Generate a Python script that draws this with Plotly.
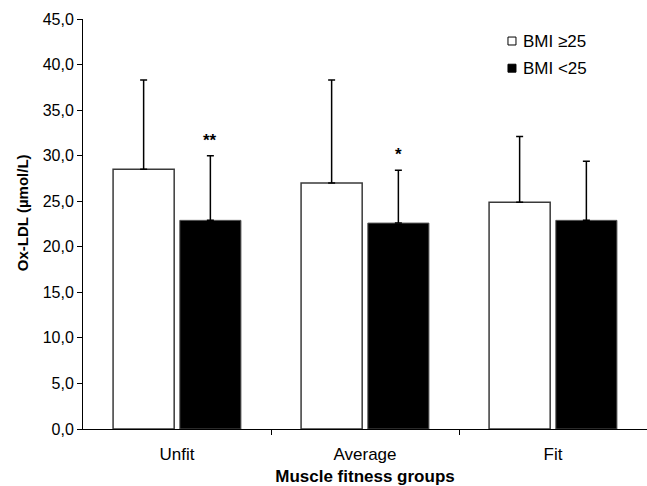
import plotly.graph_objects as go

categories = ["Unfit", "Average", "Fit"]
series_names = ["BMI \u226525", "BMI <25"]
bmi_high = [28.5, 27.0, 24.9]
bmi_high_err = [9.8, 11.3, 7.2]
bmi_low = [22.9, 22.6, 22.9]
bmi_low_err = [7.1, 5.8, 6.5]
signif = ["**", "*", ""]
ytick_vals = [0, 5, 10, 15, 20, 25, 30, 35, 40, 45]
ytick_text = ["0,0", "5,0", "10,0", "15,0", "20,0", "25,0", "30,0", "35,0", "40,0", "45,0"]

FONT = "Liberation Sans, Arial, sans-serif"
xpos = list(range(len(categories)))
W = 0.325
OFF_HIGH = -0.34
OFF_LOW = 0.015

fig = go.Figure()
fig.add_trace(go.Bar(
    x=xpos, y=bmi_high, name=series_names[0], width=W, offset=OFF_HIGH,
    marker=dict(color="white", line=dict(color="#3a3a3a", width=1.5)),
    error_y=dict(type="data", array=bmi_high_err, arrayminus=[0] * 3, symmetric=False,
                 color="black", thickness=1.5, width=3.5),
))
fig.add_trace(go.Bar(
    x=xpos, y=bmi_low, name=series_names[1], width=W, offset=OFF_LOW,
    marker=dict(color="black", line=dict(color="#555555", width=1)),
    error_y=dict(type="data", array=bmi_low_err, arrayminus=[0] * 3, symmetric=False,
                 color="black", thickness=1.5, width=3.5),
))

for i, s in enumerate(signif):
    if s:
        fig.add_annotation(x=i + OFF_LOW + W / 2, y=bmi_low[i] + bmi_low_err[i], text="<b>" + s + "</b>",
                           showarrow=False, yanchor="bottom", yshift=4,
                           font=dict(family=FONT, size=17, color="black"))

# custom legend (boxes + labels), placed in paper coordinates
legend_fill = ["white", "black"]
legend_rows_y = [0.9463, 0.880]
for name, fill, yc in zip(series_names, legend_fill, legend_rows_y):
    fig.add_shape(type="rect", xref="paper", yref="paper",
                  x0=0.7535, x1=0.7677, y0=yc - 0.0097, y1=yc + 0.0097,
                  fillcolor=fill, line=dict(color="black", width=1))
    fig.add_annotation(xref="paper", yref="paper", x=0.7766, y=yc, text=name,
                       showarrow=False, xanchor="left", yanchor="middle",
                       font=dict(family=FONT, size=17, color="black"))

# y-axis title
fig.add_annotation(xref="paper", yref="paper", x=-0.106, y=0.527, text="<b>Ox-LDL (\u00b5mol/L)</b>",
                   textangle=-90, showarrow=False, xanchor="center", yanchor="middle",
                   font=dict(family=FONT, size=15, color="black"))

fig.update_layout(
    width=647, height=486,
    margin=dict(l=83, r=0, t=19, b=57),
    plot_bgcolor="white", paper_bgcolor="white",
    font=dict(family=FONT, size=16, color="black"),
    showlegend=False,
    xaxis=dict(
        range=[-0.5, 2.5], tickvals=xpos, ticktext=categories, ticks="",
        showline=True, linecolor="black", linewidth=1, showgrid=False, zeroline=False,
        minor=dict(tickvals=[0.5, 1.5], ticks="outside", ticklen=5, tickcolor="black", showgrid=False),
        title=dict(text="<b>Muscle fitness groups</b>", font=dict(family=FONT, size=17), standoff=10),
        tickfont=dict(family=FONT, size=17),
        ticklabelstandoff=10,
    ),
    yaxis=dict(
        range=[0, 45], tickvals=ytick_vals, ticktext=ytick_text, ticks="outside", ticklen=5,
        tickcolor="black", showline=True, linecolor="black", linewidth=1, showgrid=False, zeroline=False,
        tickfont=dict(family=FONT, size=16),
    ),
)

fig.write_html("out.html")
